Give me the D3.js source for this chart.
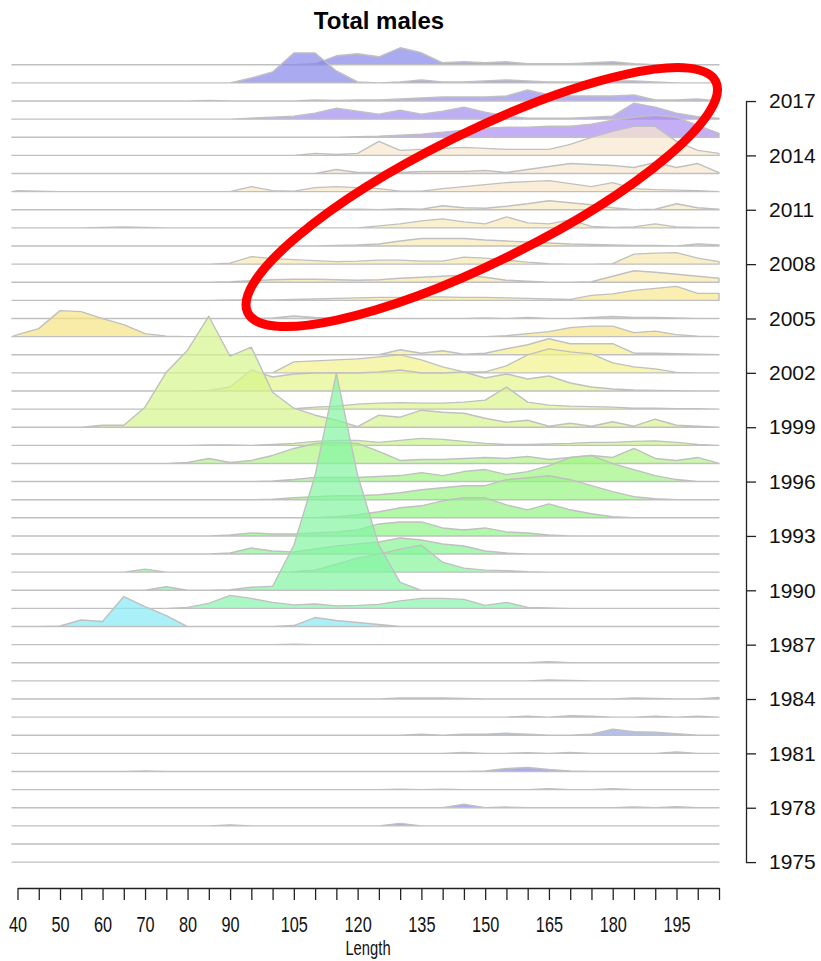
<!DOCTYPE html>
<html><head><meta charset="utf-8">
<script src="https://cdn.jsdelivr.net/npm/d3@7"></script>
<style>
body{margin:0;background:#fff}
svg{display:block}
text{font-family:'Liberation Sans',Arial,sans-serif}
</style>
</head><body>
<svg id="chart" width="821" height="961"></svg>
<script>
// ---- data ----
const lengths = [40,45,50,55,60,65,70,75,80,85,90,95,100,105,110,115,120,125,130,135,140,145,150,155,160,165,170,175,180,185,190,195,200,205];
const lengthLabels = [40,50,60,70,80,90,105,120,135,150,165,180,195];
const yearTicks = [2017,2014,2011,2008,2005,2002,1999,1996,1993,1990,1987,1984,1981,1978,1975];

const r2019 = [0,0,0,0,0,0,0,0,0,0,0,0,0,0,1,9,11,8,17,12,2,3,2,3,1,1,1,2,3,1,0,0,0,0];
const r2018 = [0,0,0,0,0,0,0,0,0,0,0,5,11,30,30,12,1,0,1,3,1,1,2,3,2,1,1,1,2,2,1,0,0,0];
const r2017 = [0,0,0,0,0,0,0,0,0,0.5,0,0,0,0,1,0.5,1,1,2,3,4,4,4,5,11,6,5,5,5,6,1,1,2,0];
const r2016 = [0,0,0,0,0,0,0,0,0,0,0,1,2,3,6,11,8,5,9,5,8,12,7,3,1,1,1,2,3,16,12,6,2.5,1];
const r2015 = [0,0,0,0,0,0,0,0,0,0,0,0,0,0,0,0,0.5,1,2,3,5,7,9,10,10,11,11,13,17,20,22,20,12,4];
const r2014 = [0,0,0,0,0,0,0,0,0,0,0,0,0,0,2,1,2,14,5,6,7,8,7,6,6,6,11,18,24,29,29,14,5,2];
const r2013 = [0,0,0,0,0,0,0,0,0,0,0,0,0,0,0,4,1,1,1,2,2,2,3,1,4,7,10,9,8,6,11,6,10,1];
const r2012 = [1,0.5,0,0,0,0,0,0,0,0,0,5,1,0.5,4,5,4,3,0.5,0.5,3,5,7,9,10,11,8,5,9,3,2,1.5,1,0];
const r2011 = [0,0,0,0,0,0,0,0,0,0,0,0,0,0,0,0,0.5,0,1,0.5,4,2,1.5,3.5,6,9,7,5,2,0,0.5,6,2,0.5];
const r2010 = [0,0,0,0,0.5,1,0.5,0,0,0,0,0,0,0,0,0,0,2,4,7,9,6,4,11,5,4,8,1.5,0.5,1,4,1,0.5,0.5];
const r2009 = [0,0,0,0,0,0,0,0,0,0,0,0,0,0,0,0.5,1,2,5,7.5,7.5,7.5,6,5,4,3,2,1.5,1,0.5,0.5,0,2,1];
const r2008 = [0,0,0,0,0,0,0,0,0,0,1,7.5,5.5,4.5,3.5,2.5,3,4,4,3,3,7,6,4,2,0.5,0,0,0.5,10,11,11.5,6,2.5];
const r2007 = [0,0,0,0,0,0,0,0,0,0,0.5,1.5,2.5,3,3,2.5,2,2.5,4,5,6,7,5,2,1,0,0,0.5,6,11.5,10,8,6,4];
const r2006 = [0,0,0,0,0,0,0,0,0,0,0.3,0.5,0.5,1,1.5,2,2.5,3,3,3.5,3.5,3,3,2.5,2,1.5,1,5,6.5,10,12,14,7,7];
const r2005 = [0,0,0,0,0,0,0,0,0,0,0,0,0.5,2.5,1,0.3,0,0,0,0,0,0,0.5,0,1,0,0,1,2,1,1,0.5,0,0];
const r2004 = [2,8,26,25,18,12,3,0.5,0,0,0,0,0,0,0,0,0,0,0,0,0,0,0,1,3,5,9,10.5,10.5,4,5.5,2,0.5,0];
const r2003 = [0,0,0,0,0,0,0,0,0,0,0,0,0,0,0,0,0,0,5,1.5,4,0.5,1.5,6,10,16,11,11,11,1.5,1.5,1,0.5,0];
const r2002 = [0,0,0,0,0,0,0,0,0,0,0,0,0,11,12,13,14,16,18,13,6,1,1,7,18,24,21,19,10,6,4,0.5,0,0];
const r2001 = [0,0,0,0,0,0,0,0,0,0.5,4,21,14,17,18,18,18,19,21,18,18,19,13,17,12,15,8,4,2,1,0.5,0.3,0,0];
const r2000 = [0,0,0,0,0,0,0,0,0,0,0,0,0,0.5,2,3,5,6,6.5,6,6,7,9,22,7,4,3,2.5,2,1,1,0.5,0.5,0];
const r1999 = [0,0,0,0,2,2,20,55,77,111,71,80,35,19,12,7,0.5,12,10,17,15,14,9,5,7,1,4,1,5.5,1,8,2,1,0];
const r1998 = [0,0,0,0,0,0,0,0,0,0.5,0.5,0,1,2,4,5,5,3,5,7,6,4,2,1,1,1.5,2,3,3,4,4.5,3,1,0];
const r1997 = [0,0,0,0,0,0,0,0,1,5,1,3,8,15,20,21,20,12,3,4,4,5,6,5,7,4,6,8,6,15,5,3,6,0];
const r1996 = [0,0,0,0,0,0,0,0,0,0,0,0,0.5,2,4,4,4,5,6,9,6,10,12,7,10,16,24,26,18,12,6,2,0,0];
const r1995 = [0,0,0,0,0,0,0,0,0,0,0,0,0.5,2,3,4,4,5,7,10,12,14,14,20,22,24,20,14,8,3,1,0,0,0];
const r1994 = [0,0,0,0,0,0,0,0,0,0,0,0,0,0,0,1,3,6,10,12,17,20,20,13,8,14,8,4,1,0,0,0,0,0];
const r1993 = [0,0,0,0,0,0,0,0,0,0,1,3,2,2,3,4,6,12,14,14,8,6,8,4,3,1,0,0,0,0,0,0,0,0];
const r1992 = [0,0,0,0,0,0,0,0,0,0,1,6,3,2,5,8,10,12,16,14,10,8,3,1,0,0,0,0,0,0,0,0,0,0];
const r1991 = [0,0,0,0,0,0,3,0,0,0,0,0,0,0.5,2,8,14,18,23,27,10,4,2,1.5,0.5,0,0,0,0,0,0,0,0,0];
const r1990 = [0,0,0,0,0,0,0,3.5,0,0,0.5,3,4,45,115,217,115,45,8,0,0,0,0,0,0,0,0,0,0,0,0,0,0,0];
const r1989 = [0,0,0,0,0,0,0,0,1,5,13,10,6,3.5,4.4,2.5,3,4,7.5,10,10,9,3,6,1,0.5,0,0,0,0,0,0,0,0];
const r1988 = [0,0,0.5,6.5,5,30,20,11,0,0,0,0,0,1,9,6,4,2,0,0,0,0,0,0,0,0,0,0,0,0,0,0,0,0];
const r1987 = [0,0,0,0,0,0,0,0,0,0,0,0,0,0.5,0,0,0,0,0,0,0,0,0,0,0,0,0,0,0,0,0,0,0,0];
const r1986 = [0,0,0,0,0,0,0,0,0,0,0,0,0,0,0,0,0,0,0,0,0,0,0,0,0,1,0,0,0,0,0,0,0,0];
const r1985 = [0,0,0,0,0,0,0,0,0,0,0,0,0,0,0,0,0,0,0,0,0,0,0,0,0,1,0.5,0,0,0,0,0,0,0];
const r1984 = [0,0,0,0,0,0,0,0,0,0,0,0,0,0,0,0,0,0,1,1,1,0.5,0,0,0,0,0,0,0,1,0.5,0,0,1.5];
const r1983 = [0,0,0,0,0,0,0,0,0,0,0,0,0,0,0,0,0,0,0,0,0,0,0,0,1,0,1.5,1,0,0,1,0,1,0];
const r1982 = [0,0,0,0,0,0,0,0,0,0,0,0,0,0,0,0,0,0,0,1,0,1,1,2,1,0,0,1,6,3.5,3,1.5,0,0];
const r1981 = [0,0,0,0,0,0,0,0,0,0,0,0,0,0,0,0,0,0,0,0,0,1,0,0,0.7,0,1,0,0,0,0,1.5,0,0];
const r1980 = [0,0,0,0,0,0,0.5,0,0,0,0,0,0,0,0,0,0,0,0,0,0,0,0.5,3,4,2,0.5,0,0,0,0,0,0,0];
const r1979 = [0,0,0,0,0,0,0,0,0,0,0,0,0,0,0,0,0,0,0.5,0,0.5,0,0,0,0,1,0,0,1,0,0,0,0,0];
const r1978 = [0,0,0,0,0,0,0,0,0,0,0,0,0,0,0,0,0,0,0,0,0,3.5,0,0.7,0,0,0,0,0,0.7,0,1,0,0];
const r1977 = [0,0,0,0,0,0,0,0,0,0,1,0,0,0,0,0,0,0,2.5,0,0,0,0,0,0,0,0,0,0,0,0,0,0,0];
const r1976 = [0,0,0,0,0,0,0,0,0,0,0,0,0,0,0,0,0,0,0,0,0,0,0,0,0,0,0,0,0,0,0,0,0,0];
const r1975 = [0,0,0,0,0,0,0,0,0,0,0,0,0,0,0,0,0,0,0,0,0,0,0,0,0,0,0,0,0,0,0,0,0,0];

const years = [2019,2018,2017,2016,2015,2014,2013,2012,2011,2010,2009,2008,2007,2006,2005,2004,2003,2002,2001,2000,
  1999,1998,1997,1996,1995,1994,1993,1992,1991,1990,1989,1988,1987,1986,1985,1984,1983,1982,1981,1980,1979,1978,1977,1976,1975];
const rows = [r2019,r2018,r2017,r2016,r2015,r2014,r2013,r2012,r2011,r2010,r2009,r2008,r2007,r2006,r2005,r2004,r2003,r2002,r2001,r2000,
  r1999,r1998,r1997,r1996,r1995,r1994,r1993,r1992,r1991,r1990,r1989,r1988,r1987,r1986,r1985,r1984,r1983,r1982,r1981,r1980,r1979,r1978,r1977,r1976,r1975];

// ---- styles (apparent tint of each ridge, same order as years) ----
const tints = ["#aaaaf0","#aaaaf0","#b4aff5","#bcaff5","#c4aef6","#faeedc","#faeedc","#faeed8","#faf0d4","#faf0d0","#faf0cc","#faf0c8","#faf0c4","#faeeb0","#faeeb8","#f8eca8","#f8f4ae","#f6f6ae","#ecf8ae","#e6f8ae",
  "#e2f8ae","#d6f8aa","#c8f8aa","#bcf8a8","#b6f8a8","#b2f8a8","#b0f8aa","#acf8b4","#aaf8b8","#a8f8be","#aaf8c6","#aaf0f8","#b0baf0","#b0baf0","#b0baf0","#b0baf0","#b0baf0","#b0c0f0","#b0b8f0","#a8acf0","#b0b8f0","#a8acf0","#a8acf0","#b0b8f0","#b0b8f0"];
const fillOpacity = 0.7;
const baseColor = t => { const c = d3.rgb(t); const f = v => Math.max(0, Math.round(255 - (255 - v) / fillOpacity)); return d3.rgb(f(c.r), f(c.g), f(c.b)).formatHex(); };

// ---- drawing ----
const svg = d3.select("#chart");
const x = d3.scaleLinear().domain([40, 205]).range([17.5, 719]);
const yBase = d3.scaleLinear().domain([1975, 2019]).range([862.1, 64.8]);
const h = d3.scaleLinear().domain([0, 217]).range([0, 217]);
const xStart = 38.7;

svg.append("text").attr("x", 379).attr("y", 29).attr("text-anchor", "middle")
  .attr("font-size", 24).attr("font-weight", "bold").text("Total males");

const ridges = svg.append("g");
years.forEach((yr, i) => {
  const vals = rows[i];
  const pts = [[xStart, 0]].concat(lengths.map((l, j) => [l, vals[j]])).concat([[205, 0]]);
  const area = d3.area().x(d => x(d[0])).y0(yBase(yr)).y1(d => yBase(yr) - h(d[1]));
  ridges.append("path").attr("d", area(pts) + "Z")
    .attr("fill", baseColor(tints[i])).attr("fill-opacity", fillOpacity)
    .attr("stroke", "#c0c0c0").attr("stroke-width", 1.4).attr("stroke-linejoin", "round");
});

// bottom axis
const xAxis = d3.axisBottom(x).tickValues(lengths).tickSize(12).tickSizeOuter(0)
  .tickFormat(d => lengthLabels.includes(d) ? d : "");
const gx = svg.append("g").attr("transform", "translate(0,888)").call(xAxis);
gx.selectAll("path,line").attr("stroke", "#222").attr("stroke-width", 1.3);
gx.selectAll("text").attr("font-size", 22).attr("fill", "#111").attr("y", 0).attr("dy", 0)
  .attr("transform", "translate(0,44) scale(0.74,1)")
  .attr("font-family", "'Liberation Sans',Arial,sans-serif");
svg.append("g").attr("transform", "translate(368,955) scale(0.74,1)")
  .append("text").attr("text-anchor", "middle")
  .attr("font-size", 20).attr("fill", "#111").text("Length");

// right axis
const yAx = d3.scaleLinear().domain([1975, 2017]).range([yBase(1975), yBase(2017)]);
const yAxis = d3.axisRight(yAx).tickValues(yearTicks).tickSize(10).tickSizeOuter(0).tickFormat(d3.format("d"));
const gy = svg.append("g").attr("transform", "translate(746,0)").call(yAxis);
gy.selectAll("path,line").attr("stroke", "#222").attr("stroke-width", 1.3);
gy.selectAll("text").attr("font-size", 21).attr("fill", "#111").attr("x", 23)
  .attr("font-family", "'Liberation Sans',Arial,sans-serif");

// red annotation ellipse (in data coordinates for its centre)
const ellipseCentre = {length: 149.2, year: 2011.7};
svg.append("ellipse")
  .attr("transform", `translate(${x(ellipseCentre.length)},${yBase(ellipseCentre.year)}) rotate(-26.3)`)
  .attr("rx", 261).attr("ry", 65)
  .attr("fill", "none").attr("stroke", "#ff0000").attr("stroke-width", 9);
</script>
</body></html>
